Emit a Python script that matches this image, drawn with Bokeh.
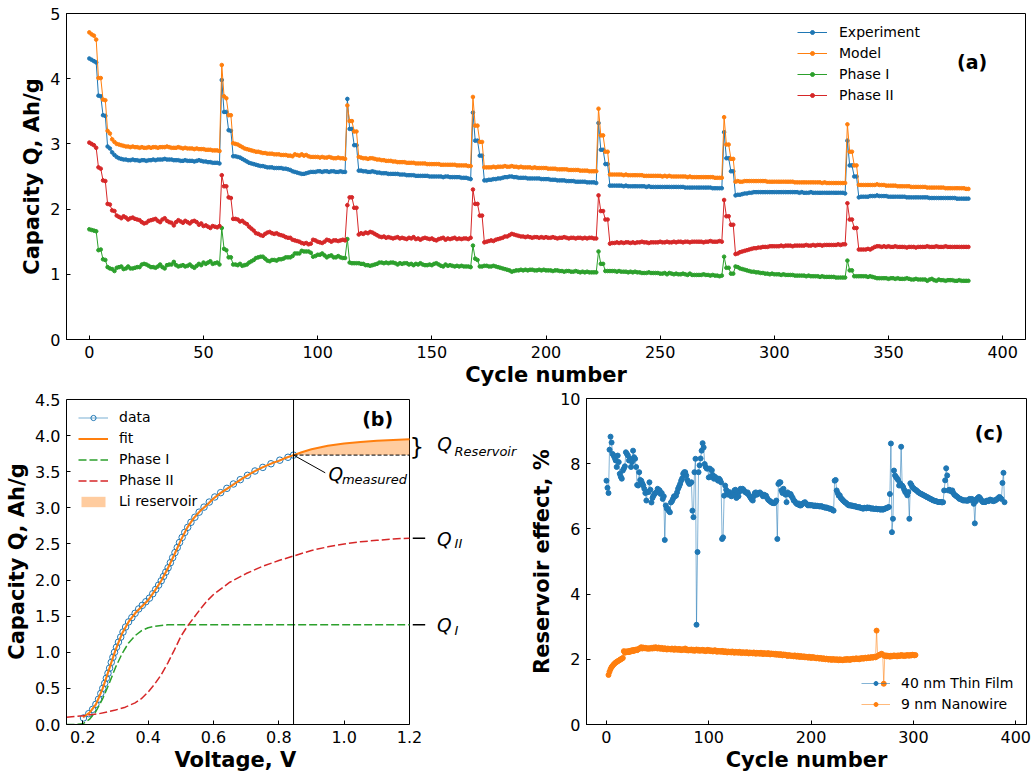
from bokeh.plotting import figure
from bokeh.models import (Legend, LegendItem, Label, FixedTicker, Title,
                          PrintfTickFormatter)
from bokeh.layouts import column, row
from bokeh.embed import file_html
from bokeh.resources import INLINE

FONT = "DejaVu Sans"
BLUE, ORANGE, GREEN, RED = "#1f77b4", "#ff7f0e", "#2ca02c", "#d62728"

# ---------------------------------------------------------------- panel (a)
# capacity per cycle, Ah/g  (cycles 0..385)
experiment = [
    4.31, 4.29, 4.27, 4.25, 3.74, 3.73, 3.44, 3.43, 2.96, 2.93, 2.87, 2.83, 2.80,
    2.78, 2.77, 2.76, 2.76, 2.75, 2.75, 2.76, 2.75, 2.75, 2.74,
    2.75, 2.75, 2.74, 2.75, 2.75, 2.76, 2.75, 2.76, 2.76, 2.76,
    2.77, 2.76, 2.76, 2.76, 2.75, 2.75, 2.75, 2.74, 2.74, 2.75,
    2.74, 2.74, 2.74, 2.73, 2.74, 2.75, 2.74, 2.73, 2.73, 2.72,
    2.72, 2.71, 2.71, 2.71, 2.70,
    3.98, 3.49, 3.49, 3.21, 3.20, 2.81,
    2.81, 2.80, 2.79, 2.77, 2.75, 2.73, 2.71, 2.70, 2.69,
    2.68, 2.67, 2.66, 2.66, 2.65, 2.64, 2.64, 2.64, 2.63, 2.63,
    2.63, 2.63, 2.62, 2.62, 2.61, 2.60, 2.58, 2.57, 2.56, 2.55,
    2.54, 2.54, 2.55, 2.56, 2.57, 2.57, 2.57, 2.58, 2.58, 2.57,
    2.58, 2.58, 2.57, 2.58, 2.58, 2.57, 2.57, 2.58, 2.57, 2.57,
    3.69, 3.23, 3.23, 2.98, 2.98, 2.59,
    2.59, 2.58, 2.58, 2.57, 2.57, 2.58, 2.57, 2.56, 2.56,
    2.55, 2.55, 2.55, 2.54, 2.54, 2.54, 2.54, 2.54, 2.53, 2.53,
    2.53, 2.52, 2.52, 2.52, 2.52, 2.51, 2.51, 2.51, 2.51, 2.51,
    2.51, 2.50, 2.50, 2.50, 2.50, 2.50, 2.50, 2.49, 2.50, 2.50,
    2.49, 2.49, 2.49, 2.49, 2.49, 2.48, 2.48, 2.48, 2.47, 2.46,
    3.48, 3.05, 3.05, 2.82, 2.82, 2.44,
    2.44, 2.45, 2.45, 2.46, 2.46, 2.47, 2.47, 2.48, 2.49,
    2.49, 2.50, 2.50, 2.49, 2.49, 2.48, 2.48, 2.48, 2.48, 2.47,
    2.47, 2.47, 2.47, 2.47, 2.47, 2.46, 2.46, 2.46, 2.46, 2.45,
    2.45, 2.45, 2.44, 2.44, 2.44, 2.44, 2.43, 2.43, 2.43, 2.43,
    2.42, 2.42, 2.42, 2.42, 2.42, 2.41, 2.41, 2.41, 2.41, 2.40,
    3.32, 2.91, 2.91, 2.69, 2.69, 2.36,
    2.36, 2.36, 2.36, 2.36, 2.36, 2.35, 2.36, 2.35, 2.35,
    2.35, 2.35, 2.35, 2.35, 2.35, 2.35, 2.34, 2.35, 2.34, 2.34,
    2.34, 2.34, 2.34, 2.34, 2.34, 2.34, 2.34, 2.34, 2.34, 2.34,
    2.34, 2.34, 2.34, 2.33, 2.33, 2.33, 2.33, 2.33, 2.33, 2.33,
    2.33, 2.33, 2.33, 2.33, 2.33, 2.32, 2.32, 2.32, 2.32, 2.32,
    3.18, 2.78, 2.78, 2.58, 2.58, 2.21,
    2.22, 2.22, 2.23, 2.24, 2.24, 2.25, 2.25, 2.26,
    2.26, 2.26, 2.26, 2.26, 2.26, 2.26, 2.26, 2.26, 2.26, 2.26,
    2.26, 2.26, 2.26, 2.26, 2.26, 2.26, 2.26, 2.26, 2.26, 2.25,
    2.26, 2.25, 2.25, 2.25, 2.26, 2.25, 2.25, 2.25, 2.25, 2.25,
    2.25, 2.25, 2.25, 2.25, 2.25, 2.25, 2.25, 2.25, 2.25, 2.24,
    3.05, 2.67, 2.67, 2.50, 2.50, 2.18,
    2.19, 2.19, 2.19, 2.19, 2.20, 2.20, 2.20, 2.21,
    2.20, 2.20, 2.20, 2.20, 2.19, 2.19, 2.19, 2.19, 2.19, 2.19,
    2.19, 2.19, 2.18, 2.18, 2.18, 2.18, 2.18, 2.18, 2.18, 2.18,
    2.18, 2.18, 2.17, 2.17, 2.17, 2.17, 2.17, 2.17, 2.17, 2.17,
    2.17, 2.17, 2.17, 2.17, 2.16, 2.16, 2.16, 2.16, 2.16, 2.16,
]

model = [
    4.71, 4.68, 4.66, 4.60, 4.01, 4.01, 3.68, 3.67, 3.20, 3.16, 3.07, 3.03, 3.00,
    2.99, 2.98, 2.97, 2.96, 2.96, 2.95, 2.96, 2.95, 2.95, 2.94,
    2.95, 2.94, 2.94, 2.95, 2.94, 2.95, 2.95, 2.94, 2.95, 2.95,
    2.95, 2.96, 2.95, 2.94, 2.94, 2.94, 2.95, 2.94, 2.93, 2.94,
    2.93, 2.93, 2.93, 2.92, 2.93, 2.92, 2.92, 2.92, 2.91, 2.91,
    2.91, 2.90, 2.90, 2.90, 2.89,
    4.21, 3.73, 3.70, 3.44, 3.44, 3.01,
    3.00, 2.99, 2.97, 2.95, 2.93, 2.92, 2.91, 2.90, 2.89,
    2.88, 2.88, 2.87, 2.86, 2.86, 2.85, 2.85, 2.85, 2.84, 2.84,
    2.84, 2.83, 2.83, 2.83, 2.82, 2.82, 2.81, 2.84, 2.83, 2.82,
    2.84, 2.82, 2.83, 2.81, 2.80, 2.80, 2.80, 2.80, 2.79, 2.80,
    2.79, 2.79, 2.80, 2.79, 2.78, 2.78, 2.79, 2.78, 2.78, 2.77,
    3.59, 3.35, 3.35, 3.19, 3.19, 2.80,
    2.79, 2.78, 2.78, 2.77, 2.78, 2.78, 2.77, 2.76, 2.76,
    2.75, 2.75, 2.74, 2.74, 2.74, 2.73, 2.73, 2.72, 2.72, 2.72,
    2.72, 2.71, 2.71, 2.71, 2.71, 2.70, 2.70, 2.70, 2.70, 2.70,
    2.69, 2.69, 2.69, 2.69, 2.69, 2.69, 2.68, 2.68, 2.68, 2.68,
    2.68, 2.68, 2.68, 2.67, 2.67, 2.67, 2.67, 2.67, 2.66, 2.66,
    3.72, 3.28, 3.28, 3.03, 3.03, 2.64,
    2.64, 2.64, 2.64, 2.65, 2.64, 2.65, 2.65, 2.65, 2.66,
    2.65, 2.65, 2.66, 2.65, 2.65, 2.64, 2.65, 2.64, 2.64, 2.64,
    2.64, 2.63, 2.64, 2.63, 2.63, 2.63, 2.63, 2.63, 2.62, 2.62,
    2.62, 2.62, 2.61, 2.61, 2.61, 2.61, 2.61, 2.60, 2.60, 2.60,
    2.60, 2.60, 2.59, 2.59, 2.59, 2.59, 2.58, 2.58, 2.58, 2.58,
    3.54, 3.13, 3.13, 2.88, 2.88, 2.53,
    2.53, 2.53, 2.53, 2.53, 2.53, 2.52, 2.53, 2.52, 2.52,
    2.52, 2.52, 2.52, 2.52, 2.52, 2.51, 2.51, 2.51, 2.51, 2.51,
    2.51, 2.51, 2.51, 2.50, 2.51, 2.50, 2.51, 2.50, 2.50, 2.50,
    2.50, 2.50, 2.50, 2.50, 2.49, 2.50, 2.49, 2.49, 2.49, 2.49,
    2.49, 2.49, 2.49, 2.49, 2.49, 2.49, 2.48, 2.48, 2.48, 2.48,
    3.41, 2.99, 2.99, 2.77, 2.77, 2.42,
    2.43, 2.42, 2.42, 2.43, 2.43, 2.43, 2.43, 2.43,
    2.43, 2.43, 2.43, 2.43, 2.43, 2.42, 2.42, 2.42, 2.42, 2.42,
    2.42, 2.42, 2.42, 2.42, 2.42, 2.42, 2.42, 2.41, 2.41, 2.41,
    2.41, 2.41, 2.41, 2.41, 2.41, 2.41, 2.41, 2.41, 2.41, 2.40,
    2.41, 2.40, 2.40, 2.40, 2.40, 2.40, 2.40, 2.40, 2.40, 2.40,
    3.30, 2.88, 2.88, 2.67, 2.67, 2.37,
    2.37, 2.37, 2.37, 2.37, 2.37, 2.37, 2.37, 2.38,
    2.37, 2.37, 2.37, 2.36, 2.36, 2.36, 2.36, 2.36, 2.35, 2.35,
    2.35, 2.35, 2.35, 2.35, 2.34, 2.34, 2.34, 2.34, 2.34, 2.34,
    2.34, 2.33, 2.33, 2.33, 2.33, 2.33, 2.33, 2.33, 2.33, 2.32,
    2.32, 2.32, 2.32, 2.32, 2.32, 2.32, 2.32, 2.32, 2.31, 2.31,
]

phase_1 = [
    1.69, 1.68, 1.67, 1.66, 1.37, 1.38, 1.23, 1.22, 1.11, 1.09, 1.08, 1.05, 1.10,
    1.11, 1.12, 1.08, 1.09, 1.12, 1.09, 1.09, 1.10, 1.11, 1.11,
    1.15, 1.16, 1.15, 1.13, 1.11, 1.11, 1.10, 1.12, 1.15, 1.11,
    1.09, 1.14, 1.15, 1.15, 1.19, 1.14, 1.12, 1.13, 1.14, 1.12,
    1.13, 1.15, 1.12, 1.10, 1.13, 1.16, 1.14, 1.18, 1.16, 1.18,
    1.20, 1.16, 1.17, 1.18, 1.15,
    1.71, 1.39, 1.37, 1.26, 1.26, 1.15,
    1.15, 1.14, 1.16, 1.13, 1.14, 1.15, 1.18, 1.20, 1.22,
    1.25, 1.26, 1.27, 1.27, 1.24, 1.21, 1.20, 1.22, 1.22, 1.21,
    1.23, 1.23, 1.24, 1.26, 1.26, 1.26, 1.28, 1.32, 1.32, 1.32,
    1.36, 1.35, 1.35, 1.35, 1.33, 1.27, 1.28, 1.30, 1.30, 1.32,
    1.29, 1.26, 1.28, 1.29, 1.26, 1.26, 1.28, 1.26, 1.25, 1.25,
    1.54, 1.18, 1.17, 1.17, 1.17, 1.17,
    1.16, 1.16, 1.14, 1.14, 1.13, 1.14, 1.15, 1.16, 1.18,
    1.18, 1.17, 1.18, 1.17, 1.18, 1.18, 1.17, 1.15, 1.17, 1.16,
    1.17, 1.17, 1.15, 1.16, 1.14, 1.16, 1.15, 1.17, 1.15, 1.14,
    1.14, 1.15, 1.14, 1.16, 1.17, 1.15, 1.13, 1.12, 1.15, 1.13,
    1.14, 1.13, 1.12, 1.13, 1.12, 1.13, 1.12, 1.12, 1.12, 1.11,
    1.44, 1.24, 1.22, 1.12, 1.12, 1.13,
    1.13, 1.12, 1.12, 1.13, 1.12, 1.11, 1.10, 1.09, 1.08,
    1.07, 1.06, 1.04, 1.05, 1.06, 1.06, 1.07, 1.06, 1.07, 1.06,
    1.07, 1.07, 1.06, 1.06, 1.07, 1.06, 1.07, 1.06, 1.06, 1.06,
    1.05, 1.06, 1.06, 1.05, 1.05, 1.04, 1.05, 1.05, 1.04, 1.04,
    1.05, 1.04, 1.03, 1.04, 1.03, 1.04, 1.03, 1.03, 1.03, 1.03,
    1.35, 1.16, 1.16, 1.05, 1.05, 1.05,
    1.05, 1.05, 1.04, 1.05, 1.04, 1.04, 1.04, 1.03, 1.04,
    1.03, 1.04, 1.03, 1.03, 1.02, 1.02, 1.02, 1.03, 1.02, 1.02,
    1.02, 1.02, 1.01, 1.01, 1.02, 1.00, 1.02, 1.01, 1.00, 1.01,
    1.00, 1.00, 1.01, 1.00, 0.99, 1.01, 0.99, 0.99, 0.99, 0.99,
    0.99, 1.00, 0.99, 0.99, 0.98, 0.99, 0.98, 0.98, 0.97, 0.98,
    1.27, 1.10, 1.10, 1.01, 1.01, 1.12,
    1.11, 1.09, 1.08, 1.07, 1.06, 1.05, 1.04, 1.04,
    1.03, 1.03, 1.02, 1.02, 1.01, 1.01, 1.00, 1.01, 1.00, 1.00,
    1.00, 0.99, 1.00, 0.99, 0.99, 0.99, 0.99, 0.98, 0.98, 0.98,
    0.98, 0.98, 0.97, 0.98, 0.97, 0.97, 0.97, 0.97, 0.96, 0.97,
    0.96, 0.96, 0.96, 0.96, 0.96, 0.95, 0.95, 0.95, 0.95, 0.95,
    1.21, 1.06, 1.06, 0.97, 0.97, 0.97,
    0.97, 0.97, 0.97, 0.96, 0.97, 0.96, 0.95, 0.94,
    0.94, 0.94, 0.94, 0.94, 0.93, 0.94, 0.94, 0.93, 0.94, 0.93,
    0.93, 0.93, 0.94, 0.93, 0.92, 0.92, 0.93, 0.92, 0.92, 0.92,
    0.92, 0.90, 0.92, 0.93, 0.91, 0.90, 0.92, 0.91, 0.91, 0.90,
    0.91, 0.91, 0.91, 0.90, 0.90, 0.91, 0.90, 0.90, 0.90, 0.90,
]

phase_2 = [
    3.02, 3.00, 2.98, 2.94, 2.64, 2.62, 2.44, 2.43, 2.08, 2.07, 1.98, 1.97, 1.90,
    1.88, 1.86, 1.89, 1.87, 1.84, 1.86, 1.87, 1.85, 1.84, 1.83,
    1.80, 1.78, 1.79, 1.82, 1.83, 1.84, 1.85, 1.82, 1.80, 1.84,
    1.86, 1.82, 1.80, 1.79, 1.75, 1.80, 1.83, 1.81, 1.79, 1.82,
    1.80, 1.78, 1.81, 1.82, 1.80, 1.76, 1.78, 1.74, 1.75, 1.73,
    1.71, 1.74, 1.73, 1.72, 1.74,
    2.52, 2.35, 2.35, 2.18, 2.17, 1.85,
    1.85, 1.84, 1.81, 1.82, 1.79, 1.77, 1.73, 1.70, 1.67,
    1.63, 1.62, 1.60, 1.59, 1.62, 1.64, 1.65, 1.63, 1.62, 1.63,
    1.61, 1.60, 1.59, 1.57, 1.56, 1.56, 1.53, 1.52, 1.51, 1.50,
    1.48, 1.47, 1.48, 1.46, 1.47, 1.53, 1.52, 1.50, 1.49, 1.48,
    1.50, 1.53, 1.52, 1.50, 1.52, 1.52, 1.51, 1.52, 1.53, 1.52,
    2.06, 2.18, 2.18, 2.02, 2.02, 1.61,
    1.63, 1.62, 1.64, 1.63, 1.65, 1.64, 1.62, 1.60, 1.58,
    1.57, 1.58, 1.56, 1.57, 1.56, 1.55, 1.56, 1.57, 1.55, 1.56,
    1.55, 1.54, 1.56, 1.55, 1.57, 1.54, 1.55, 1.53, 1.55, 1.56,
    1.55, 1.54, 1.55, 1.53, 1.52, 1.54, 1.55, 1.56, 1.53, 1.55,
    1.54, 1.55, 1.56, 1.54, 1.55, 1.54, 1.55, 1.55, 1.54, 1.56,
    2.30, 2.08, 2.08, 1.90, 1.90, 1.49,
    1.50, 1.51, 1.52, 1.51, 1.53, 1.54, 1.55, 1.56, 1.58,
    1.58, 1.60, 1.62, 1.61, 1.60, 1.59, 1.58, 1.58, 1.57, 1.58,
    1.57, 1.56, 1.57, 1.57, 1.56, 1.57, 1.56, 1.57, 1.56, 1.56,
    1.57, 1.56, 1.55, 1.56, 1.56, 1.57, 1.56, 1.55, 1.56, 1.56,
    1.55, 1.56, 1.56, 1.55, 1.56, 1.55, 1.56, 1.56, 1.55, 1.55,
    2.21, 1.97, 1.97, 1.84, 1.84, 1.47,
    1.48, 1.48, 1.49, 1.48, 1.49, 1.48, 1.49, 1.49, 1.48,
    1.49, 1.48, 1.49, 1.49, 1.50, 1.49, 1.49, 1.48, 1.49, 1.49,
    1.49, 1.49, 1.50, 1.49, 1.49, 1.50, 1.49, 1.49, 1.50, 1.49,
    1.50, 1.50, 1.49, 1.50, 1.50, 1.49, 1.50, 1.50, 1.50, 1.50,
    1.50, 1.49, 1.50, 1.50, 1.51, 1.50, 1.50, 1.50, 1.51, 1.50,
    2.14, 1.89, 1.89, 1.76, 1.76, 1.31,
    1.32, 1.34, 1.35, 1.36, 1.37, 1.38, 1.39, 1.40,
    1.40, 1.41, 1.41, 1.42, 1.42, 1.42, 1.43, 1.43, 1.43, 1.43,
    1.43, 1.44, 1.43, 1.44, 1.44, 1.44, 1.43, 1.44, 1.44, 1.44,
    1.44, 1.44, 1.45, 1.44, 1.44, 1.45, 1.44, 1.45, 1.45, 1.44,
    1.45, 1.45, 1.45, 1.45, 1.45, 1.45, 1.46, 1.45, 1.46, 1.46,
    2.09, 1.84, 1.84, 1.71, 1.71, 1.38,
    1.38, 1.38, 1.38, 1.39, 1.38, 1.40, 1.42, 1.43,
    1.43, 1.42, 1.43, 1.42, 1.43, 1.42, 1.42, 1.43, 1.42, 1.42,
    1.42, 1.42, 1.41, 1.42, 1.42, 1.42, 1.41, 1.42, 1.42, 1.42,
    1.42, 1.43, 1.42, 1.42, 1.42, 1.43, 1.42, 1.42, 1.42, 1.43,
    1.42, 1.42, 1.42, 1.42, 1.42, 1.42, 1.42, 1.42, 1.42, 1.42,
]

a_xticks = [0, 50, 100, 150, 200, 250, 300, 350, 400]
a_yticks = [0, 1, 2, 3, 4, 5]

# ---------------------------------------------------------------- panel (b)
data_v = [0.202, 0.218, 0.230, 0.240, 0.248, 0.255, 0.261, 0.267, 0.272, 0.277,
          0.282, 0.287, 0.292, 0.297, 0.303, 0.309, 0.316, 0.323, 0.331, 0.340,
          0.350, 0.360, 0.371, 0.382, 0.393, 0.404, 0.414, 0.423, 0.432, 0.440,
          0.447, 0.454, 0.461, 0.468, 0.475, 0.482, 0.489, 0.496, 0.504, 0.512,
          0.521, 0.531, 0.543, 0.556, 0.571, 0.587, 0.604, 0.622, 0.641, 0.661,
          0.682, 0.704, 0.727, 0.751, 0.776, 0.803, 0.828, 0.845]
data_q = [0.09, 0.15, 0.21, 0.28, 0.35, 0.43, 0.50, 0.57, 0.64, 0.71,
          0.78, 0.86, 0.93, 1.00, 1.07, 1.14, 1.21, 1.28, 1.35, 1.42,
          1.48, 1.54, 1.60, 1.65, 1.70, 1.75, 1.81, 1.87, 1.93, 1.99,
          2.05, 2.11, 2.17, 2.24, 2.31, 2.38, 2.45, 2.52, 2.59, 2.66,
          2.73, 2.80, 2.87, 2.94, 3.01, 3.08, 3.15, 3.21, 3.27, 3.33,
          3.39, 3.45, 3.51, 3.56, 3.61, 3.66, 3.70, 3.73]

fit_v = [0.20, 0.22, 0.24, 0.26, 0.28, 0.30, 0.32, 0.34, 0.36, 0.38, 0.40,
         0.42, 0.44, 0.46, 0.48, 0.50, 0.52, 0.54, 0.56, 0.58, 0.60, 0.62,
         0.64, 0.66, 0.68, 0.70, 0.72, 0.74, 0.76, 0.78, 0.80, 0.82, 0.845,
         0.87, 0.90, 0.95, 1.00, 1.05, 1.10, 1.15, 1.20]
fit_q = [0.10, 0.16, 0.28, 0.49, 0.76, 1.03, 1.26, 1.42, 1.54, 1.63, 1.72,
         1.85, 1.99, 2.16, 2.35, 2.55, 2.73, 2.86, 2.96, 3.04, 3.13, 3.20,
         3.26, 3.32, 3.38, 3.44, 3.49, 3.54, 3.58, 3.62, 3.65, 3.69, 3.73,
         3.77, 3.81, 3.86, 3.89, 3.91, 3.93, 3.94, 3.95]

ph1_v = [0.15, 0.18, 0.20, 0.22, 0.24, 0.26, 0.28, 0.30, 0.32, 0.34, 0.36,
         0.38, 0.40, 0.42, 0.44, 0.46, 0.50, 0.60, 0.80, 1.00, 1.20]
ph1_q = [0.00, 0.00, 0.01, 0.07, 0.18, 0.35, 0.56, 0.79, 0.98, 1.13, 1.23,
         1.30, 1.34, 1.36, 1.37, 1.38, 1.38, 1.38, 1.38, 1.38, 1.38]

ph2_v = [0.15, 0.20, 0.25, 0.30, 0.33, 0.36, 0.38, 0.40, 0.42, 0.44, 0.46,
         0.48, 0.50, 0.52, 0.54, 0.56, 0.58, 0.60, 0.65, 0.70, 0.75, 0.80,
         0.85, 0.90, 0.95, 1.00, 1.05, 1.10, 1.15, 1.20]
ph2_q = [0.10, 0.12, 0.15, 0.20, 0.24, 0.30, 0.36, 0.45, 0.56, 0.69, 0.85,
         1.03, 1.22, 1.36, 1.48, 1.60, 1.71, 1.80, 1.97, 2.09, 2.19, 2.27,
         2.34, 2.41, 2.46, 2.50, 2.53, 2.55, 2.57, 2.58]

v_min, v_max = 0.15, 1.2
q_max = 4.5
v_cut = 0.845       # last measured voltage
q_measured = 3.73   # capacity at v_cut
q_one = 1.38        # plateau of phase I
q_two = 2.58        # plateau of phase II
q_total = 3.95      # plateau of the fit

b_xticks = [0.2, 0.4, 0.6, 0.8, 1.0, 1.2]
b_yticks = [0.0, 0.5, 1.0, 1.5, 2.0, 2.5, 3.0, 3.5, 4.0, 4.5]

# ---------------------------------------------------------------- panel (c)
thin_film = [
    7.48, 7.26, 7.10, 8.43, 8.83, 8.65, 8.30, 8.25, 8.18, 8.10,
    7.90, 8.25, 8.05, 7.69, 7.60, 7.54, 7.79, 7.85, 7.92, 8.35,
    8.30, 8.25, 8.10, 8.15, 7.90, 8.05, 8.40, 8.20, 8.15, 7.90,
    7.35, 7.33, 7.74, 7.50, 7.48, 7.40, 7.33, 7.23, 7.10, 6.87,
    7.13, 7.13, 7.43, 7.20, 6.81, 6.95, 7.02, 7.07, 7.10, 7.13,
    7.23, 7.20, 7.18, 7.07, 7.10, 6.92, 7.00, 5.66, 6.72, 6.62,
    6.62, 6.55, 6.51, 6.81, 6.85, 6.92, 7.00, 7.00, 7.02, 7.12,
    7.23, 7.30, 7.38, 7.48, 7.55, 7.69, 7.74, 7.74, 7.64, 7.50,
    7.43, 7.38, 7.40, 7.43, 6.56, 6.36, 7.74, 8.15, 3.06, 5.29,
    7.74, 7.95, 8.16, 8.40, 8.63, 8.50, 7.99, 7.90, 7.85, 7.85,
    7.58, 7.85, 7.60, 7.80, 7.65, 7.54, 7.60, 7.54, 7.55, 7.48,
    7.54, 7.50, 7.43, 5.69, 5.74, 7.02, 7.33, 7.20, 7.10, 7.05,
    7.13, 7.05, 7.00, 7.02, 7.10, 7.18, 7.20, 6.95, 7.05, 7.00,
    7.15, 7.23, 7.18, 7.23, 7.20, 7.15, 7.12, 7.10, 7.12, 7.05,
    7.00, 6.95, 6.90, 6.87, 7.00, 7.10, 7.12, 7.05, 7.08, 7.10,
    7.12, 7.08, 7.05, 7.00, 7.05, 7.02, 7.02, 6.95, 6.90, 6.87,
    6.85, 6.82, 6.80, 6.79, 6.79, 6.82, 6.87, 5.69, 7.38, 7.43,
    7.43, 7.18, 7.10, 7.23, 7.10, 7.05, 6.82, 7.12, 7.08, 7.05,
    7.07, 7.00, 6.95, 6.87, 6.85, 6.80, 6.77, 6.75, 6.78, 6.72,
    6.72, 6.75, 6.78, 6.80, 6.82, 6.78, 6.75, 6.72, 6.74, 6.72,
    6.73, 6.72, 6.72, 6.70, 6.72, 6.70, 6.71, 6.70, 6.69, 6.69,
    6.70, 6.68, 6.67, 6.66, 6.65, 6.66, 6.64, 6.63, 6.62, 6.62,
    6.60, 6.58, 6.56, 7.48, 7.50, 7.18, 7.10, 7.02, 7.03, 6.95,
    6.92, 6.88, 6.85, 6.82, 6.80, 6.77, 6.74, 6.72, 6.73, 6.71,
    6.72, 6.70, 6.69, 6.70, 6.68, 6.67, 6.66, 6.67, 6.65, 6.64,
    6.63, 6.62, 6.65, 6.64, 6.63, 6.66, 6.64, 6.65, 6.63, 6.62,
    6.63, 6.62, 6.61, 6.62, 6.62, 6.60, 6.61, 6.60, 6.59, 6.61,
    6.59, 6.60, 6.62, 6.63, 6.64, 6.66, 6.67, 7.07, 8.62, 5.90,
    6.31, 7.79, 7.64, 7.59, 7.55, 7.50, 7.33, 7.40, 8.52, 7.33,
    7.28, 7.20, 7.13, 7.10, 7.03, 7.13, 6.31, 7.40, 7.35, 7.28,
    7.25, 7.22, 7.20, 7.18, 7.15, 7.12, 7.10, 7.08, 7.07, 7.05,
    7.03, 7.02, 7.00, 6.98, 6.97, 6.95, 6.93, 6.92, 6.90, 6.88,
    6.87, 6.86, 6.85, 6.84, 6.83, 6.82, 6.82, 6.83, 6.81, 6.82,
    7.18, 7.49, 7.86, 7.64, 7.18, 7.20, 7.18, 7.15, 7.18, 7.10,
    7.05, 7.03, 7.00, 6.98, 6.95, 6.92, 6.92, 6.90, 6.88, 6.87,
    6.88, 6.87, 6.87, 6.86, 6.90, 6.92, 6.88, 6.92, 6.90, 6.77,
    6.17, 6.85, 6.92, 6.95, 6.98, 6.95, 6.90, 6.85, 6.82, 6.84,
    6.82, 6.85, 6.87, 6.85, 6.87, 6.90, 6.87, 6.88, 6.85, 6.87,
    6.87, 6.90, 6.92, 6.95, 6.98, 6.95, 6.92, 7.41, 7.72, 6.82,
]

nanowire_start = 2
nanowire = [
    1.52, 1.62, 1.70, 1.76, 1.80, 1.84, 1.87, 1.90, 1.92, 1.94,
    1.96, 1.98, 2.00, 2.02, 2.04, 2.25, 2.20, 2.24, 2.22, 2.25,
    2.22, 2.26, 2.24, 2.28, 2.25, 2.29, 2.27, 2.30, 2.28, 2.31,
    2.32, 2.35, 2.37, 2.33, 2.36, 2.34, 2.35, 2.33, 2.34, 2.32,
    2.34, 2.33, 2.35, 2.33, 2.36, 2.34, 2.37, 2.35, 2.33, 2.36,
    2.34, 2.32, 2.35, 2.33, 2.31, 2.34, 2.32, 2.30, 2.33, 2.31,
    2.32, 2.30, 2.33, 2.31, 2.29, 2.33, 2.30, 2.31, 2.29, 2.32,
    2.30, 2.28, 2.31, 2.29, 2.30, 2.33, 2.28, 2.30, 2.27, 2.29,
    2.28, 2.30, 2.27, 2.29, 2.26, 2.28, 2.30, 2.27, 2.29, 2.26,
    2.28, 2.27, 2.29, 2.26, 2.28, 2.25, 2.27, 2.29, 2.26, 2.28,
    2.25, 2.27, 2.24, 2.26, 2.28, 2.25, 2.23, 2.26, 2.24, 2.25,
    2.23, 2.26, 2.24, 2.22, 2.25, 2.23, 2.21, 2.24, 2.22, 2.23,
    2.21, 2.24, 2.22, 2.20, 2.23, 2.21, 2.22, 2.20, 2.23, 2.21,
    2.19, 2.22, 2.20, 2.21, 2.19, 2.22, 2.20, 2.18, 2.21, 2.19,
    2.20, 2.18, 2.21, 2.19, 2.17, 2.20, 2.18, 2.19, 2.17, 2.20,
    2.18, 2.16, 2.19, 2.17, 2.18, 2.16, 2.19, 2.17, 2.15, 2.18,
    2.16, 2.17, 2.15, 2.17, 2.14, 2.16, 2.15, 2.13, 2.16, 2.14,
    2.12, 2.15, 2.13, 2.14, 2.12, 2.10, 2.13, 2.11, 2.12, 2.10,
    2.11, 2.09, 2.12, 2.10, 2.08, 2.11, 2.09, 2.07, 2.10, 2.08,
    2.07, 2.09, 2.06, 2.08, 2.07, 2.05, 2.08, 2.06, 2.04, 2.07,
    2.05, 2.06, 2.04, 2.03, 2.05, 2.04, 2.02, 2.04, 2.03, 2.01,
    2.03, 2.02, 2.00, 2.02, 2.01, 1.99, 2.01, 2.00, 1.98, 2.01,
    1.99, 2.00, 1.98, 2.00, 1.99, 1.97, 2.00, 1.98, 1.99, 1.97,
    1.99, 2.00, 1.98, 2.01, 1.99, 2.00, 1.98, 2.01, 2.00, 2.02,
    2.00, 2.01, 2.03, 2.01, 2.02, 2.00, 2.03, 2.02, 2.04, 2.02,
    2.03, 2.05, 2.03, 2.04, 2.06, 2.04, 2.05, 2.07, 2.05, 2.06,
    2.08, 2.06, 2.88, 2.10, 2.12, 2.14, 2.15, 2.17, 2.14, 1.25,
    2.10, 2.12, 2.09, 2.11, 2.10, 2.08, 2.11, 2.09, 2.10, 2.12,
    2.10, 2.11, 2.09, 2.12, 2.10, 2.11, 2.13, 2.11, 2.12, 2.10,
    2.12, 2.11, 2.13, 2.12, 2.11, 2.13, 2.12, 2.14, 2.13, 2.12,
    2.13,
]

c_xticks = [0, 100, 200, 300, 400]
c_yticks = [0, 2, 4, 6, 8, 10]


# ---------------------------------------------------------------- helpers
def style(p, xticks, yticks, xlabel, ylabel):
    p.xaxis.ticker = FixedTicker(ticks=xticks)
    p.yaxis.ticker = FixedTicker(ticks=yticks)
    p.xaxis.axis_label = xlabel
    p.yaxis.axis_label = ylabel
    for ax in (p.xaxis[0], p.yaxis[0]):
        ax.major_tick_in = 4
        ax.major_tick_out = 0
        ax.minor_tick_in = 0
        ax.minor_tick_out = 0
        ax.axis_line_color = "black"
        ax.major_tick_line_color = "black"
        ax.major_label_text_font = FONT
        ax.major_label_text_font_size = "16px"
        ax.major_label_text_color = "black"
        ax.major_label_standoff = 6
        ax.axis_label_text_font = FONT
        ax.axis_label_text_font_size = "21px"
        ax.axis_label_text_font_style = "bold"
        ax.axis_label_text_color = "black"
    p.xaxis.axis_label_standoff = 2
    p.yaxis.axis_label_standoff = 3
    p.xgrid.visible = False
    p.ygrid.visible = False
    p.outline_line_color = "black"
    p.outline_line_width = 1
    p.outline_line_alpha = 1


def legend(items, loc, glyph_w=30, glyph_h=10, standoff=12):
    return Legend(items=items, location=loc, border_line_alpha=0,
                  background_fill_alpha=0, label_text_font=FONT,
                  label_text_font_size="14px", label_text_color="black",
                  glyph_width=glyph_w, glyph_height=glyph_h, label_height=18,
                  spacing=3, padding=0, margin=0, label_standoff=standoff)


def tag(p, x, y, text):
    p.add_layout(Label(x=x, y=y, text=text, text_font=FONT,
                       text_font_size="19px", text_font_style="bold",
                       text_color="black", text_align="left",
                       text_baseline="middle"))


def italic(p, x, y, text, size):
    p.add_layout(Label(x=x, y=y, text=text, text_font=FONT,
                       text_font_size=size, text_font_style="italic",
                       text_color="black", text_align="left",
                       text_baseline="middle"))


# ---------------------------------------------------------------- panel (a)
pa = figure(width=1032, height=390, x_range=(-10, 410), y_range=(0, 5),
            output_backend="svg", toolbar_location=None,
            min_border_left=66, min_border_right=7, min_border_top=13,
            min_border_bottom=51)
style(pa, a_xticks, a_yticks, "Cycle number", "Capacity Q, Ah/g")

items_a = []
for name, series, col in (("Experiment", experiment, BLUE),
                          ("Model", model, ORANGE),
                          ("Phase I", phase_1, GREEN),
                          ("Phase II", phase_2, RED)):
    xs = list(range(len(series)))
    ln = pa.line(xs, series, line_color=col, line_width=1)
    sc = pa.scatter(xs, series, size=3.6, color=col)
    items_a.append(LegendItem(label=name, renderers=[ln, sc]))
pa.add_layout(legend(items_a, (731, 235)))
tag(pa, 380, 4.26, "(a)")

# ---------------------------------------------------------------- panel (b)
# The plotting area continues past v_max so the capacity annotations on the
# right can be drawn on the same scale; the visible box stops at v_max.
px_per_v = 343 / (v_max - v_min)
px_per_q = 326 / q_max
pb = figure(width=527, height=384,
            x_range=(v_min, v_min + 455 / px_per_v),
            y_range=(0, q_max + 1 / px_per_q),
            output_backend="svg", toolbar_location=None,
            min_border_left=66, min_border_right=6, min_border_top=7,
            min_border_bottom=50)
style(pb, b_xticks, b_yticks, "", "Capacity Q, Ah/g")
pb.outline_line_color = None
pb.xaxis.bounds = (v_min, v_max)
pb.yaxis.bounds = (0, q_max)
pb.xaxis.formatter = PrintfTickFormatter(format="%.1f")
pb.yaxis.formatter = PrintfTickFormatter(format="%.1f")
pb.add_layout(Title(text="Voltage, V", align="left", offset=108, standoff=0,
                    text_font=FONT, text_font_size="21px",
                    text_font_style="bold", text_color="black"), "below")
pb.line([v_min, v_max], [q_max, q_max], line_color="black", line_width=1)
pb.line([v_max, v_max], [0, q_max], line_color="black", line_width=1)

res_v = [v for v in fit_v if v >= v_cut]
res_q = [q for v, q in zip(fit_v, fit_q) if v >= v_cut]
r_fill = pb.varea(x=res_v, y1=[q_measured] * len(res_v), y2=res_q,
                  fill_color=ORANGE, fill_alpha=0.4)
r_dl = pb.line(data_v, data_q, line_color=BLUE, line_alpha=0.4, line_width=1.5)
r_ds = pb.scatter(data_v, data_q, size=6.5, line_color=BLUE, fill_color=None,
                  line_width=1)
r_fit = pb.line(fit_v, fit_q, line_color=ORANGE, line_width=2)
r_p1 = pb.line(ph1_v, ph1_q, line_color=GREEN, line_width=1.5, line_dash="8 3")
r_p2 = pb.line(ph2_v, ph2_q, line_color=RED, line_width=1.5, line_dash="8 3")
pb.line([v_cut, v_max], [q_measured, q_measured], line_color="black",
        line_width=1, line_dash="4 2")
pb.line([v_cut, v_cut], [0, q_max], line_color="black", line_width=1)
pb.line([v_cut, 0.942], [q_measured, 3.485], line_color="black", line_width=1)

items_b = [LegendItem(label="data", renderers=[r_dl, r_ds]),
           LegendItem(label="fit", renderers=[r_fit]),
           LegendItem(label="Phase I", renderers=[r_p1]),
           LegendItem(label="Phase II", renderers=[r_p2]),
           LegendItem(label="Li reservoir", renderers=[r_fill])]
pb.add_layout(legend(items_b, (12, 214), glyph_h=13, standoff=11))
tag(pb, 1.055, 4.23, "(b)")
italic(pb, 0.952, 3.46, "Q", "18.6px")
italic(pb, 0.993, 3.39, "measured", "13px")

# capacity annotations to the right of the box
pb.add_layout(Label(x=1.2227, y=(q_measured + q_total) / 2, text="}",
                    text_font=FONT, text_font_size="23px", text_color="black",
                    text_align="center", text_baseline="middle"))
italic(pb, 1.285, 3.87, "Q", "18.6px")
italic(pb, 1.338, 3.78, "Reservoir", "13px")
for q_lvl, sub in ((q_two, "II"), (q_one, "I")):
    pb.line([1.210, 1.248], [q_lvl, q_lvl], line_color="black",
            line_width=1.5)
    italic(pb, 1.284, q_lvl - 0.015, "Q", "18.6px")
    italic(pb, 1.338, q_lvl - 0.075, sub, "13px")

# ---------------------------------------------------------------- panel (c)
pc = figure(width=505, height=384, x_range=(-19.5, 410.5), y_range=(0, 10),
            output_backend="svg", toolbar_location=None,
            min_border_left=56, min_border_right=6, min_border_top=8,
            min_border_bottom=50)
style(pc, c_xticks, c_yticks, "Cycle number", "Reservoir effect, %")

items_c = []
for name, xs, series, col in (
        ("40 nm Thin Film", list(range(len(thin_film))), thin_film, BLUE),
        ("9 nm Nanowire",
         list(range(nanowire_start, nanowire_start + len(nanowire))),
         nanowire, ORANGE)):
    ln = pc.line(xs, series, line_color=col, line_alpha=0.55, line_width=1)
    sc = pc.scatter(xs, series, size=5, color=col)
    items_c.append(LegendItem(label=name, renderers=[ln, sc]))
pc.add_layout(legend(items_c, (275, 11), glyph_w=29, standoff=11))
tag(pc, 360, 8.93, "(c)")

layout = column(pa, row(pb, pc))
open("out.html", "w").write(file_html(layout, INLINE))
